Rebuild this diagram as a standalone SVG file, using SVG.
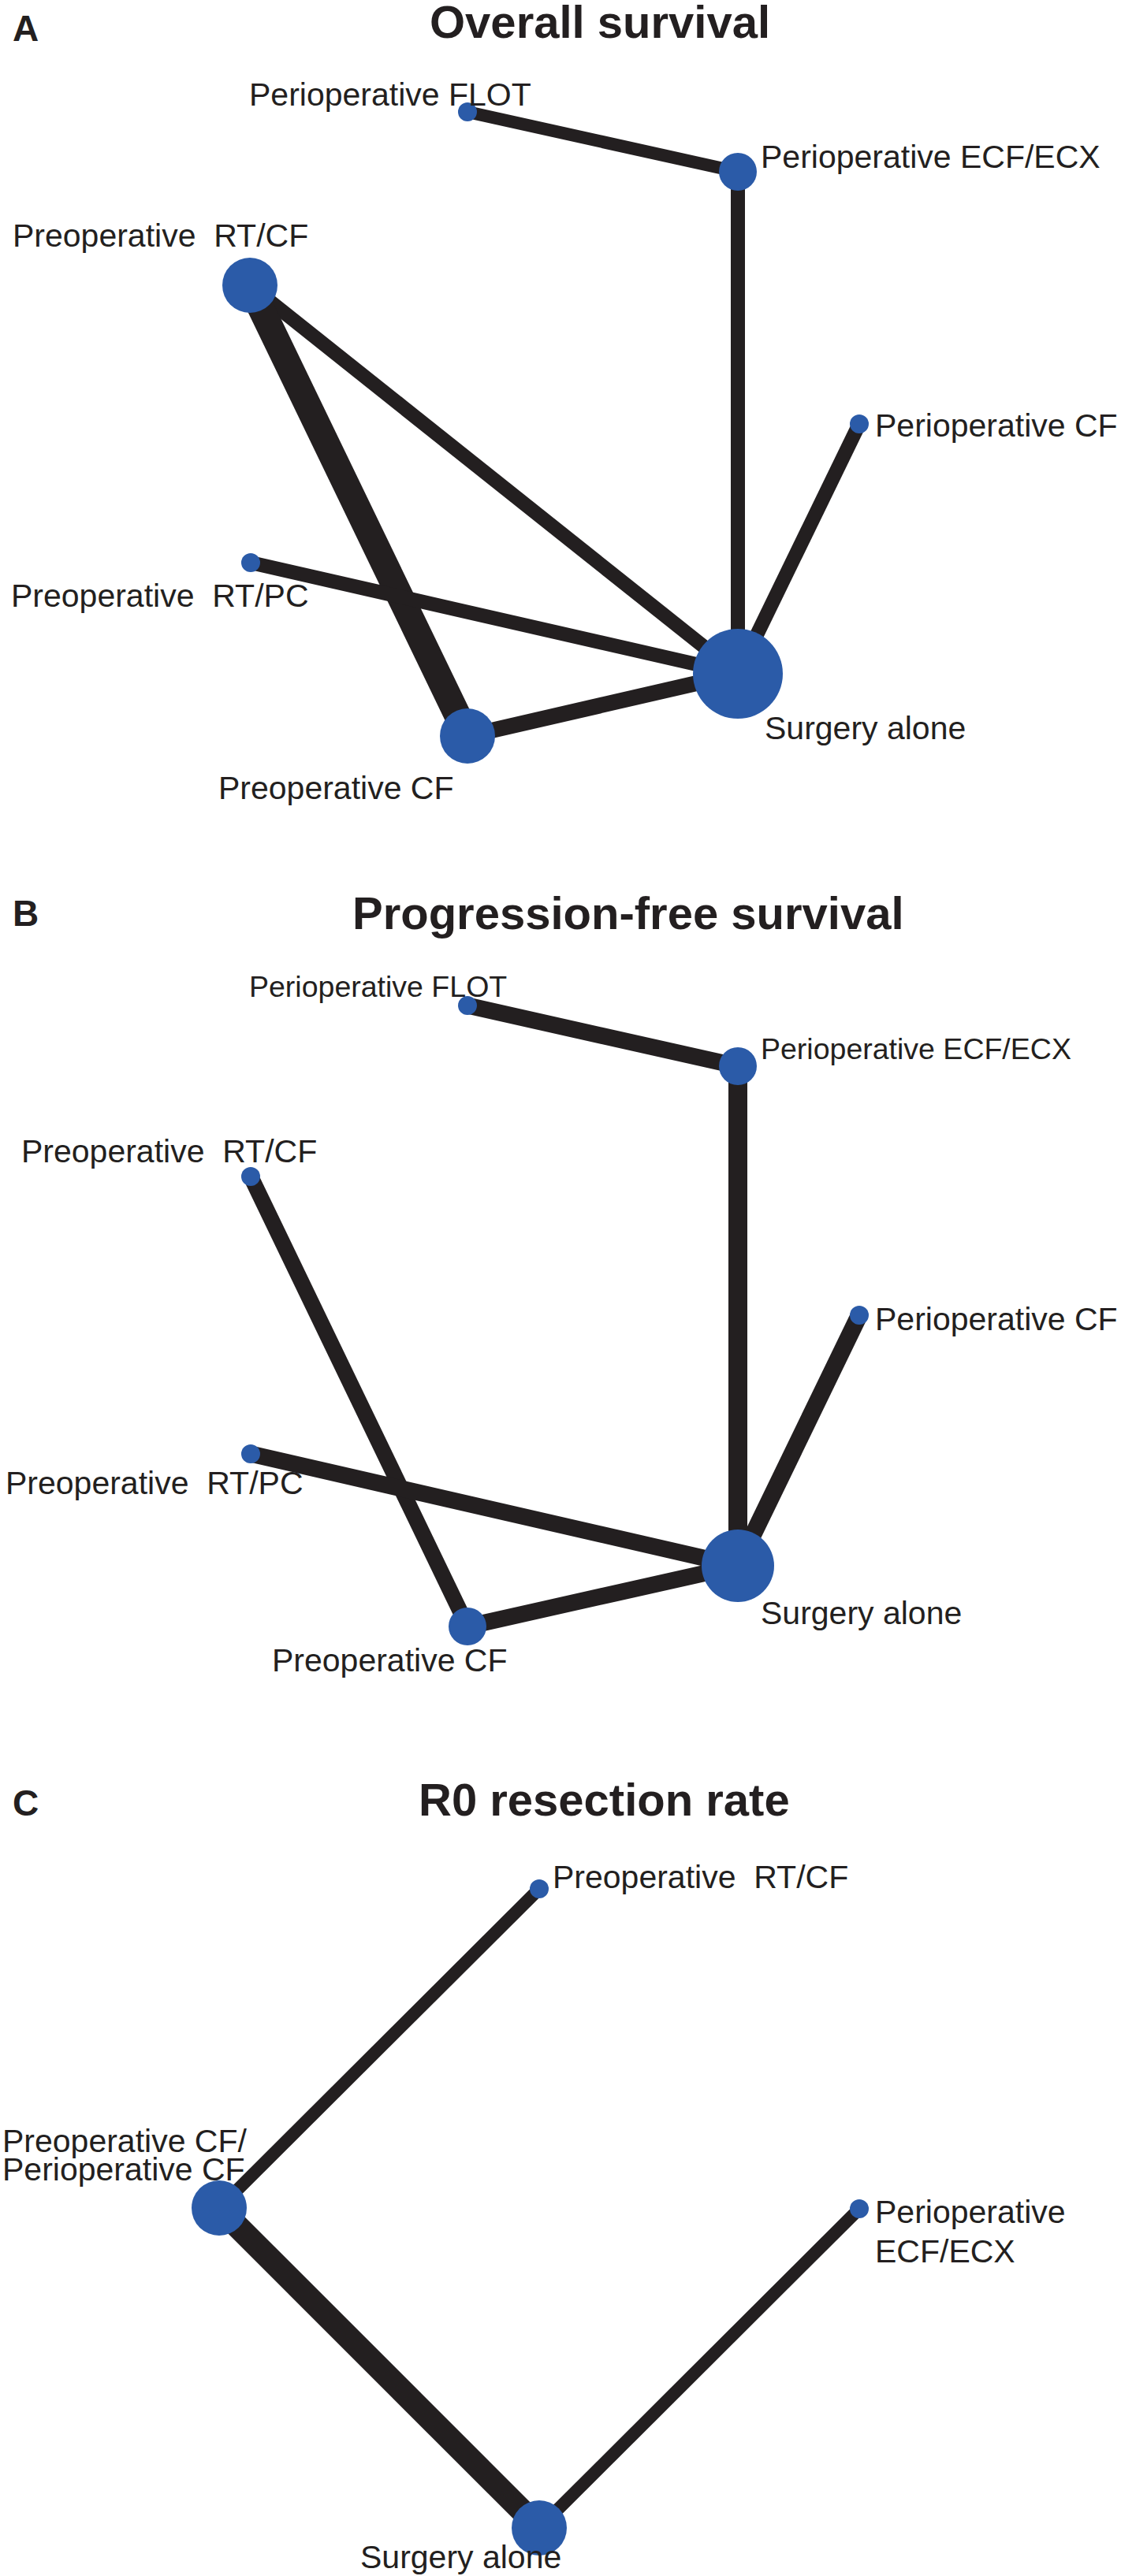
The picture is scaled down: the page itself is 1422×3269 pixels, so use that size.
<svg xmlns="http://www.w3.org/2000/svg" width="1422" height="3269" viewBox="0 0 1422 3269">
<style>
.bg{fill:#ffffff}
.e{stroke:#231f20;fill:none;stroke-linecap:butt}
.n{fill:#2b5ba8}
.t{font-family:"Liberation Sans",Arial,sans-serif;font-size:41px;fill:#231f20;white-space:pre}
.ts{font-family:"Liberation Sans",Arial,sans-serif;font-size:37.5px;fill:#231f20;white-space:pre}
.h{font-family:"Liberation Sans",Arial,sans-serif;font-size:58px;font-weight:bold;fill:#231f20}
.p{font-family:"Liberation Sans",Arial,sans-serif;font-size:46px;font-weight:bold;fill:#231f20}
</style>
<rect class="bg" x="0" y="0" width="1422" height="3269"/>
<g id="titles">
<text class="p" x="16" y="52">A</text>
<text class="h" x="545" y="48">Overall survival</text>
<text class="p" x="16" y="1175">B</text>
<text class="h" x="447" y="1179">Progression-free survival</text>
<text class="p" x="16" y="2304">C</text>
<text class="h" x="531" y="2304">R0 resection rate</text>
</g>
<g id="connectors">
<!-- Panel A -->
<line class="e" x1="593" y1="142" x2="936" y2="218" stroke-width="16"/>
<line class="e" x1="936" y1="218" x2="936" y2="855" stroke-width="18"/>
<line class="e" x1="317" y1="362" x2="936" y2="855" stroke-width="18"/>
<line class="e" x1="317" y1="362" x2="593" y2="934" stroke-width="34"/>
<line class="e" x1="318" y1="714" x2="936" y2="855" stroke-width="18"/>
<line class="e" x1="593" y1="934" x2="936" y2="855" stroke-width="20"/>
<line class="e" x1="1090" y1="538" x2="936" y2="855" stroke-width="18"/>
<!-- Panel B -->
<line class="e" x1="593" y1="1276" x2="936" y2="1353" stroke-width="21"/>
<line class="e" x1="936" y1="1353" x2="936" y2="1987" stroke-width="24"/>
<line class="e" x1="318" y1="1493" x2="593" y2="2064" stroke-width="20"/>
<line class="e" x1="318" y1="1845" x2="936" y2="1987" stroke-width="21"/>
<line class="e" x1="593" y1="2064" x2="936" y2="1987" stroke-width="21"/>
<line class="e" x1="1090" y1="1669" x2="936" y2="1987" stroke-width="22"/>
<!-- Panel C -->
<line class="e" x1="278" y1="2802" x2="684" y2="2397" stroke-width="16"/>
<line class="e" x1="278" y1="2802" x2="684" y2="3208" stroke-width="30"/>
<line class="e" x1="684" y1="3208" x2="1090" y2="2803" stroke-width="16"/>
</g>
<g id="A-periop-flot"><circle class="n" cx="593" cy="142" r="12"/><text class="t" x="316" y="134">Perioperative FLOT</text></g>
<g id="A-periop-ecf"><circle class="n" cx="936" cy="218" r="24"/><text class="t" x="965" y="213">Perioperative ECF/ECX</text></g>
<g id="A-preop-rtcf"><circle class="n" cx="317" cy="362" r="35"/><text class="t" x="16" y="313">Preoperative  RT/CF</text></g>
<g id="A-periop-cf"><circle class="n" cx="1090" cy="538" r="12"/><text class="t" x="1110" y="554">Perioperative CF</text></g>
<g id="A-preop-rtpc"><circle class="n" cx="318" cy="714" r="12"/><text class="t" x="14" y="770">Preoperative  RT/PC</text></g>
<g id="A-surgery"><circle class="n" cx="936" cy="855" r="57"/><text class="t" x="970" y="938">Surgery alone</text></g>
<g id="A-preop-cf"><circle class="n" cx="593" cy="934" r="35"/><text class="t" x="277" y="1014">Preoperative CF</text></g>

<g id="B-periop-flot"><circle class="n" cx="593" cy="1276" r="12"/><text class="ts" x="316" y="1265">Perioperative FLOT</text></g>
<g id="B-periop-ecf"><circle class="n" cx="936" cy="1353" r="24"/><text class="ts" x="965" y="1344">Perioperative ECF/ECX</text></g>
<g id="B-preop-rtcf"><circle class="n" cx="318" cy="1493" r="12"/><text class="t" x="27" y="1475">Preoperative  RT/CF</text></g>
<g id="B-periop-cf"><circle class="n" cx="1090" cy="1669" r="12"/><text class="t" x="1110" y="1688">Perioperative CF</text></g>
<g id="B-preop-rtpc"><circle class="n" cx="318" cy="1845" r="12"/><text class="t" x="7" y="1896">Preoperative  RT/PC</text></g>
<g id="B-surgery"><circle class="n" cx="936" cy="1987" r="46"/><text class="t" x="965" y="2061">Surgery alone</text></g>
<g id="B-preop-cf"><circle class="n" cx="593" cy="2064" r="24"/><text class="t" x="345" y="2121">Preoperative CF</text></g>

<g id="C-preop-rtcf"><circle class="n" cx="684" cy="2397" r="12"/><text class="t" x="701" y="2396">Preoperative  RT/CF</text></g>
<g id="C-preop-periop-cf"><circle class="n" cx="278" cy="2802" r="35"/><text class="t" x="3" y="2731">Preoperative CF/</text><text class="t" x="3" y="2767">Perioperative CF</text></g>
<g id="C-periop-ecf"><circle class="n" cx="1090" cy="2803" r="12"/><text class="t" x="1110" y="2821">Perioperative</text><text class="t" x="1110" y="2871">ECF/ECX</text></g>
<g id="C-surgery"><circle class="n" cx="684" cy="3208" r="35"/><text class="t" x="457" y="3259">Surgery alone</text></g>
</svg>
